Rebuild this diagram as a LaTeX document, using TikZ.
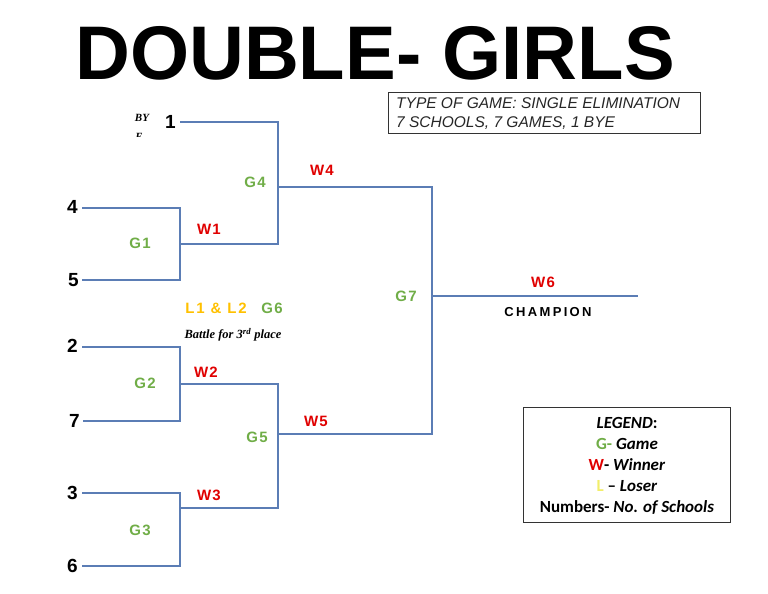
\documentclass[tikz,border=0pt]{standalone}
\usepackage{fontspec}
\setmainfont{Liberation Sans}
\newfontfamily\legfont{Carlito}
\newfontfamily\byefont{Liberation Serif}
\definecolor{linec}{HTML}{5B7DB5}
\definecolor{gc}{HTML}{70AD47}
\definecolor{wc}{HTML}{E00000}
\definecolor{lc}{HTML}{FFC000}
\definecolor{lpale}{HTML}{F2EE6A}
\begin{document}
\begin{tikzpicture}[x=1pt,y=-1pt,
  br/.style={draw=linec,line width=1.1pt},
  num/.style={font=\fontsize{19}{21}\selectfont\bfseries,inner sep=0pt,anchor=east},
  glab/.style={font=\fontsize{15}{17}\selectfont\bfseries\addfontfeature{LetterSpace=8},text=gc,inner sep=0pt},
  wlab/.style={font=\fontsize{15}{17}\selectfont\bfseries\addfontfeature{LetterSpace=8},text=wc,inner sep=0pt},
  boxed/.style={draw=black!80,line width=0.8pt}]
\useasboundingbox (0,0) rectangle (768,594);
\node[font=\fontsize{76}{80}\selectfont\bfseries,inner sep=0pt,text depth=0pt,anchor=base] (title) at (375,80) {DOUBLE- GIRLS};
\node[boxed,minimum width=312pt,minimum height=41pt,inner sep=0pt] (info) at (544,112.5) {};
\node[font=\fontsize{15.5}{19}\selectfont\itshape,align=left,anchor=west,inner sep=0pt,text=black!85] (infot) at (396,114) {TYPE OF GAME: SINGLE ELIMINATION\\7 SCHOOLS, 7 GAMES, 1 BYE};
% bye
\node[font=\byefont\fontsize{11}{12}\selectfont\bfseries\itshape,inner sep=0pt] (bye) at (142,118) {BY};
\begin{scope}
\clip (120,128) rectangle (160,136);
\node[font=\byefont\fontsize{11}{12}\selectfont\bfseries\itshape,inner sep=0pt] (byee) at (139,137) {E};
\end{scope}
% numbers
\node[num] (n1) at (176,122) {1};
\node[num] (n4) at (78,207) {4};
\node[num] (n5) at (79,280) {5};
\node[num] (n2) at (78,346) {2};
\node[num] (n7) at (80,421) {7};
\node[num] (n3) at (78,493) {3};
\node[num] (n6) at (78,566) {6};
% coordinates
\coordinate (g1a) at (180,208); \coordinate (g1b) at (180,280); \coordinate (g1m) at (180,244);
\coordinate (g2a) at (180,347); \coordinate (g2b) at (180,421); \coordinate (g2m) at (180,384);
\coordinate (g3a) at (180,493); \coordinate (g3b) at (180,566); \coordinate (g3m) at (180,508);
\coordinate (g4a) at (278,122); \coordinate (g4b) at (278,244); \coordinate (g4m) at (278,187);
\coordinate (g5a) at (278,384); \coordinate (g5b) at (278,508); \coordinate (g5m) at (278,434);
\coordinate (g7a) at (432,187); \coordinate (g7b) at (432,434); \coordinate (g7m) at (432,296);
\coordinate (champ) at (638,296);
% lines
\draw[br] ([xshift=4pt]n4.east|-g1a) -- (g1a) -- (g1b) -- ([xshift=3pt]n5.east|-g1b);
\draw[br] ([xshift=4pt]n2.east|-g2a) -- (g2a) -- (g2b) -- ([xshift=3pt]n7.east|-g2b);
\draw[br] ([xshift=4pt]n3.east|-g3a) -- (g3a) -- (g3b) -- ([xshift=4pt]n6.east|-g3b);
\draw[br] ([xshift=4pt]n1.east|-g4a) -- (g4a) -- (g4b) -- (g1m);
\draw[br] (g2m) -- (g5a) -- (g5b) -- (g3m);
\draw[br] (g4m) -- (g7a) -- (g7b) -- (g5m);
\draw[br] (g7m) -- (champ);
% labels
\node[glab] (lg1) at (140,243) {G1};
\node[glab] (lg2) at (145,383) {G2};
\node[glab] (lg3) at (140,530) {G3};
\node[glab] (lg4) at (255,182) {G4};
\node[glab] (lg5) at (257,437) {G5};
\node[glab] (lg7) at (406,296) {G7};
\node[wlab] (lw1) at (209,229) {W1};
\node[wlab] (lw2) at (206,372) {W2};
\node[wlab] (lw3) at (209,495) {W3};
\node[wlab] (lw4) at (322,170) {W4};
\node[wlab] (lw5) at (316,421) {W5};
\node[wlab] (lw6) at (543,282) {W6};
\node[font=\fontsize{13}{15}\selectfont\bfseries\addfontfeature{LetterSpace=18},inner sep=0pt] (champt) at (548,312) {CHAMPION};
\node[font=\fontsize{15}{17}\selectfont\bfseries\addfontfeature{LetterSpace=12},text=lc,inner sep=0pt] (l12) at (216,308) {L1 \& L2};
\node[glab] (lg6) at (272,308) {G6};
\node[font=\byefont\fontsize{12.5}{14}\selectfont\bfseries\itshape,inner sep=0pt] (battle) at (233,335) {Battle for 3\textsuperscript{rd} place};
% legend
\node[boxed,minimum width=207pt,minimum height=115pt,inner sep=0pt] (legend) at (626.5,464.5) {};
\node[font=\legfont\fontsize{17}{21}\selectfont\bfseries,align=center,inner sep=0pt] (legt) at (627,466) {%
\textit{LEGEND}:\\
{\color{gc}G-} \textit{Game}\\
{\color{wc}W}- \textit{Winner}\\
{\color{lpale}L} – \textit{Loser}\\
Numbers- \textit{No. of Schools}};
\end{tikzpicture}
\end{document}
